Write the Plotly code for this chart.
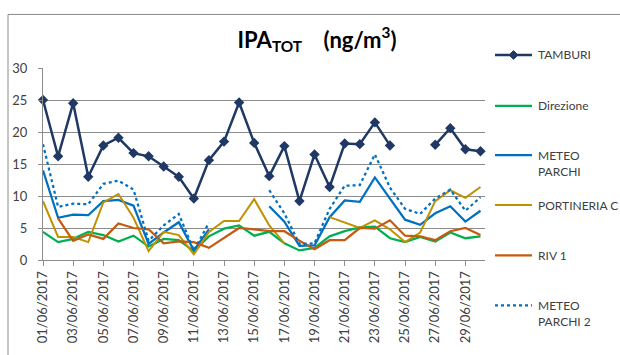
import plotly.graph_objects as go

# Daily sampling dates, June 2017
dates = [f"{d:02d}/06/2017" for d in range(1, 31)]
tick_dates = dates[::2]

# IPA_TOT concentrations (ng/m3) per station; None = no sample
tamburi = [25.0, 16.2, 24.5, 13.0, 17.9, 19.1, 16.7, 16.2, 14.6, 13.0,
           9.6, 15.6, 18.5, 24.6, 18.3, 13.1, 17.8, 9.2, 16.5, 11.4,
           18.2, 18.1, 21.5, 17.9, None, None, 18.0, 20.6, 17.3, 17.0]
direzione = [4.4, 2.8, 3.3, 4.4, 3.9, 2.9, 3.8, 2.1, 3.3, 3.1,
             1.4, 3.7, 4.9, 5.4, 3.8, 4.4, 2.6, 1.5, 1.9, 3.7,
             4.5, 5.1, 5.2, 3.4, 2.8, 3.6, 2.9, 4.3, 3.4, 3.7]
meteo_parchi = [14.0, 6.6, 7.1, 7.0, 9.2, 9.4, 8.5, 2.5, 4.3, 5.9,
                1.5, 4.8, None, None, None, 8.4, 6.0, 2.2, 2.3, 6.7,
                9.3, 9.1, 12.9, 9.6, 6.3, 5.5, 7.3, 8.4, 6.0, 7.7]
portineria_c = [9.2, 3.6, 3.6, 2.8, 9.0, 10.3, 6.6, 1.4, 4.4, 3.9,
                0.9, 4.4, 6.1, 6.1, 9.5, 5.4, 2.6, None, None, 6.7,
                5.8, 5.0, 6.2, 4.8, 2.8, 4.3, 9.2, 10.9, 9.7, 11.4]
riv_1 = [None, 6.5, 3.0, 4.0, 3.3, 5.7, 5.0, 4.8, 2.6, 2.9,
         2.8, 1.9, 3.4, 5.0, 4.8, 4.5, 4.5, 3.0, 1.7, 3.1,
         3.1, 5.0, 4.9, 6.2, 3.8, 3.7, 3.1, 4.5, 5.0, 3.9]
meteo_parchi_2 = [18.1, 8.3, 8.8, 8.7, 11.9, 12.4, 11.0, 3.0, 5.4, 7.2,
                  1.5, 5.8, None, None, None, 10.9, 7.3, 2.5, 2.6, 8.0,
                  11.6, 11.7, 16.5, 11.3, 8.0, 7.2, 9.6, 11.0, 7.7, 9.8]

FONT = "Lato, 'Open Sans', sans-serif"
TEXT = "#404040"
GRID = "#8c8c8c"

W, H = 620, 355
ML, MR, MT, MB = 43, 135, 68, 88
PW, PH = W - ML - MR, H - MT - MB


def px_x(x):
    return (x - ML) / PW


def px_y(y):
    return (H - MB - y) / PH


# name, values, line style, marker, legend row (px from top), text lines
series = [
    ("TAMBURI", tamburi, dict(color="#1F3864", width=2.5), dict(symbol="diamond", size=8), 54.5, 1),
    ("Direzione", direzione, dict(color="#00B050", width=2.25), None, 107.3, 1),
    ("METEO<br>PARCHI", meteo_parchi, dict(color="#0070C0", width=2.25), None, 158.3, 2),
    ("PORTINERIA C", portineria_c, dict(color="#C09000", width=2.0), None, 210, 1),
    ("RIV 1", riv_1, dict(color="#C55A11", width=2.25), None, 262.3, 1),
    ("METEO<br>PARCHI 2", meteo_parchi_2, dict(color="#0070C0", width=2.25, dash="dot"), None, 314, 2),
]

fig = go.Figure()
shapes = []
annotations = []
LINE_H = 17.5
for name, vals, line, marker, ly, nlines in series:
    fig.add_trace(go.Scatter(
        x=dates, y=vals, name=name.replace("<br>", " "),
        mode="lines+markers" if marker else "lines",
        line=line, marker=marker, connectgaps=False,
        cliponaxis=False, showlegend=False,
    ))
    # legend key: sample line (+ marker) and label to its right
    shapes.append(dict(
        type="line", xref="paper", yref="paper",
        x0=px_x(495), x1=px_x(532), y0=px_y(ly), y1=px_y(ly),
        line=dict(color=line["color"], width=line["width"], dash=line.get("dash", "solid")),
    ))
    if marker:
        cx, cy, r = 513.5, ly, 4.5
        pts = [(cx, cy - r), (cx + r, cy), (cx, cy + r), (cx - r, cy)]
        path = "M " + " L ".join(f"{px_x(a):.5f},{px_y(b):.5f}" for a, b in pts) + " Z"
        shapes.append(dict(
            type="path", xref="paper", yref="paper", path=path,
            fillcolor=line["color"], line=dict(color=line["color"], width=1),
        ))
    annotations.append(dict(
        text=name, xref="paper", yref="paper",
        x=px_x(536), y=px_y(ly + (nlines - 1) * LINE_H / 2),
        xanchor="left", yanchor="middle", align="left", showarrow=False,
        font=dict(family=FONT, size=12, color=TEXT),
    ))

# outer chart frame
shapes.append(dict(
    type="rect", xref="paper", yref="paper",
    x0=px_x(8), x1=px_x(700), y0=px_y(420), y1=px_y(12.5),
    line=dict(color="#8c8c8c", width=1), fillcolor="rgba(0,0,0,0)",
    layer="below",
))

fig.update_layout(
    width=W, height=H,
    margin=dict(l=ML, r=MR, t=MT, b=MB),
    paper_bgcolor="white", plot_bgcolor="white",
    showlegend=False,
    title=dict(
        text="<b>IPA<sub>TOT</sub>&nbsp;&nbsp;&nbsp;&nbsp;(ng/m<sup>3</sup>)</b>",
        x=317 / W, xanchor="center", y=1 - 40 / H, yanchor="middle",
        font=dict(family=FONT, size=22, color="black"),
    ),
    xaxis=dict(
        type="category", range=[0, 29.3],
        tickmode="array", tickvals=tick_dates, ticktext=tick_dates,
        tickangle=-90, ticks="outside", ticklen=5, tickcolor=GRID,
        showline=True, linecolor=GRID, showgrid=False,
        tickfont=dict(family=FONT, size=13, color=TEXT),
    ),
    yaxis=dict(
        range=[0, 30], dtick=5, ticks="outside", ticklen=4, tickcolor=GRID,
        showline=True, linecolor=GRID, showgrid=True, gridcolor=GRID,
        gridwidth=1, zeroline=False, ticklabelstandoff=8,
        tickfont=dict(family=FONT, size=13, color=TEXT),
    ),
    shapes=shapes,
    annotations=annotations,
)

fig.write_html("out.html")
